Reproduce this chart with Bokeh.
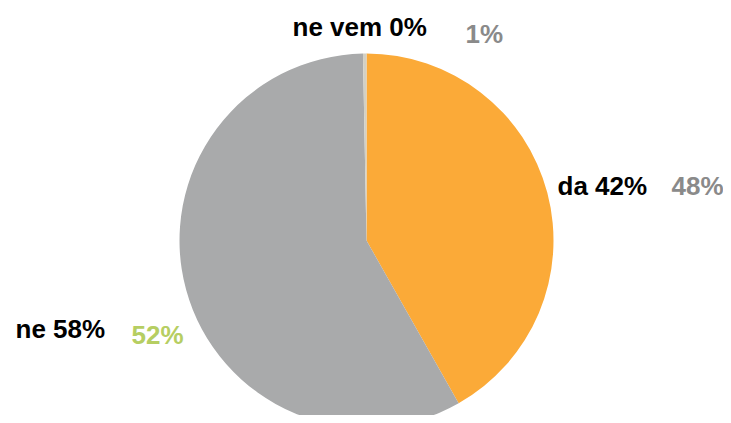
import math
from bokeh.plotting import figure
from bokeh.models import Range1d, ColumnDataSource
from bokeh.core.properties import value
from bokeh.embed import file_html
from bokeh.resources import INLINE

# ---- data ----
categories = ["da", "ne", "ne vem"]
shares = [41.8, 57.9, 0.3]            # slice sizes (%)
label_pct = [42, 58, 0]               # printed percentages
compare_pct = [48, 52, 1]             # comparison percentages
colors = ["#FBAA38", "#A9AAAB", "#D3D0C4"]
compare_colors = ["#8A8A8A", "#B6CE62", "#8A8A8A"]

# ---- layout (picture pixel coordinates) ----
W, H = 723, 415
cx, cy, R = 366, 240, 187
label_pos = [(557, 185), (15, 328), (292, 26)]
compare_pos = [(671, 185), (131, 334), (465, 33)]

p = figure(width=W, height=H, output_backend="svg", toolbar_location=None,
           x_range=Range1d(0, W), y_range=Range1d(-H, 0),
           min_border=0)
p.axis.visible = False
p.grid.visible = False
p.outline_line_color = None
p.background_fill_color = "white"
p.border_fill_color = "white"

total = sum(shares)
starts, ends = [], []
a = math.pi / 2
for s in shares:
    ang = s / total * 2 * math.pi
    ends.append(a)
    starts.append(a - ang)
    a -= ang

src = ColumnDataSource(dict(start=starts, end=ends, color=colors))
p.wedge(x=cx, y=-cy, radius=R, start_angle="start", end_angle="end",
        fill_color="color", line_color=None, source=src)

font = value("Liberation Sans")
p.text(x=[q[0] for q in label_pos], y=[-q[1] for q in label_pos],
       text=[f"{c} {v}%" for c, v in zip(categories, label_pct)],
       text_font=font, text_font_style="bold", text_font_size="26px",
       text_color="#000000", text_baseline="alphabetic", text_align="left")
p.text(x=[q[0] for q in compare_pos], y=[-q[1] for q in compare_pos],
       text=[f"{v}%" for v in compare_pct],
       text_font=font, text_font_style="bold", text_font_size="26px",
       text_color=compare_colors, text_baseline="alphabetic", text_align="left")

open("out.html", "w").write(file_html(p, INLINE))
